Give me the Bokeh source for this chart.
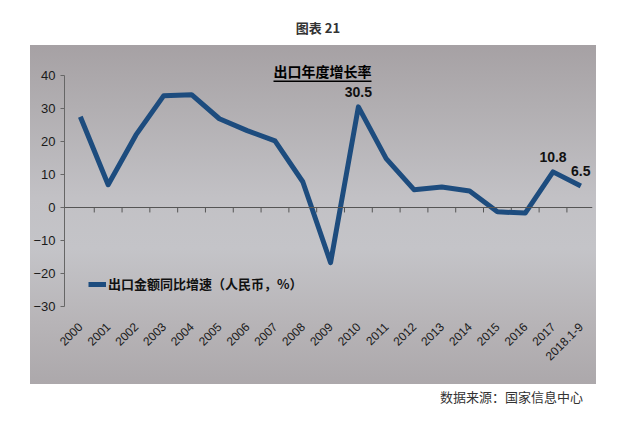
import math
from bokeh.plotting import figure
from bokeh.core.properties import value
from bokeh.models import (ColumnDataSource, FixedTicker, Label, Legend, Span,
                          LegendItem, Div, Spacer, BoxAnnotation, Range1d, LabelSet)
from bokeh.layouts import column, row
from bokeh.embed import file_html
from bokeh.resources import INLINE

# ---- data ----
years = ["2000", "2001", "2002", "2003", "2004", "2005", "2006", "2007", "2008",
         "2009", "2010", "2011", "2012", "2013", "2014", "2015", "2016", "2017",
         "2018.1-9"]
growth = [27.5, 6.9, 22.0, 33.9, 34.2, 26.9, 23.3, 20.2, 7.8, -16.7, 30.5, 14.8,
          5.4, 6.2, 5.0, -1.3, -1.7, 10.8, 6.5]
value_labels = ["", "", "", "", "", "", "", "", "", "", "30.5", "", "", "", "", "",
                "", "10.8", "6.5"]
y_ticks = [-30, -20, -10, 0, 10, 20, 30, 40]
series_name = "出口金额同比增速（人民币，%）"
chart_title = "出口年度增长率"
figure_caption = "图表 21"
source_note = "数据来源：国家信息中心"

xs = list(range(len(years)))
src = ColumnDataSource(dict(x=xs, y=growth))
lab_idx = [i for i, t in enumerate(value_labels) if t]
lab_src = ColumnDataSource(dict(x=[xs[i] for i in lab_idx],
                                y=[growth[i] for i in lab_idx],
                                lab=[value_labels[i] for i in lab_idx]))
bounds = [i + 0.5 for i in xs[:-1]]
tick_src = ColumnDataSource(dict(x=bounds))

LINE = "#1d4c7e"
FONT = "Liberation Sans"
CJK = "Noto Sans CJK SC"

p = figure(width=566, height=339, output_backend="svg", toolbar_location=None,
           x_range=Range1d(-0.57, 18.42), y_range=Range1d(-30, 49.1),
           min_border_left=32, min_border_right=4, min_border_top=0,
           min_border_bottom=78)
p.border_fill_color = None
p.background_fill_color = None
p.outline_line_color = None
p.styles = {"background": "linear-gradient(to bottom, #a6a1a4 0%, #b1aeb1 18%, "
                          "#c2c1c5 45%, #c4c4c8 60%, #b7b4b7 82%, #aca8ab 100%)"}
p.grid.visible = False

# bottom category labels
xa = p.xaxis[0]
xa.ticker = FixedTicker(ticks=xs)
xa.major_label_overrides = {i: y for i, y in enumerate(years)}
xa.major_label_orientation = math.pi / 4
xa.axis_line_color = None
xa.major_tick_line_color = None
xa.minor_tick_line_color = None
xa.major_label_standoff = 12
xa.major_label_text_font = FONT
xa.major_label_text_font_size = "12px"
xa.major_label_text_color = "#1a1a1a"

# zero line with category-boundary tick marks
p.add_layout(Span(location=0, dimension="width", line_color="#555555", line_width=1))
p.segment(x0="x", x1="x", y0=0, y1=-1.5, source=tick_src, line_color="#555555",
          line_width=1)

# y axis
ya = p.yaxis[0]
ya.ticker = FixedTicker(ticks=y_ticks)
ya.bounds = (-30, 40)
ya.axis_line_color = "#666666"
ya.major_tick_line_color = "#666666"
ya.major_tick_in = 0
ya.major_tick_out = 4
ya.minor_tick_line_color = None
ya.major_label_standoff = 5
ya.major_label_text_font = FONT
ya.major_label_text_font_size = "13px"
ya.major_label_text_color = "#1a1a1a"

r = p.line("x", "y", source=src, line_color=LINE, line_width=5, line_join="round")

labels = LabelSet(x="x", y="y", text="lab", source=lab_src, y_offset=10,
                  text_align="center", text_baseline="bottom",
                  text_font=value(FONT), text_font_style="bold",
                  text_font_size="14px", text_color="#111111")
p.add_layout(labels)

legend = Legend(items=[LegendItem(label=series_name, renderers=[r])],
                location=(24, 13), orientation="vertical")
legend.label_text_font = CJK
legend.label_text_font_style = "bold"
legend.label_text_font_size = "13px"
legend.label_text_color = "#111111"
legend.glyph_width = 18
legend.glyph_height = 12
legend.label_standoff = 2
legend.padding = 0
legend.margin = 0
legend.background_fill_alpha = 0
legend.border_line_color = None
p.add_layout(legend)

title_lab = Label(x=258, y=236, x_units="screen", y_units="screen", text=chart_title,
                  text_align="center", text_baseline="middle", text_font=CJK,
                  text_font_style="bold", text_font_size="14px", text_color="#000000")
p.add_layout(title_lab)
underline = BoxAnnotation(left=209, right=307, bottom=224.5, top=226,
                          left_units="screen", right_units="screen",
                          bottom_units="screen", top_units="screen",
                          fill_color="#000000", fill_alpha=1, line_color=None)
p.add_layout(underline)

title_div = Div(text=f'<div style="width:612px;text-align:center;padding-top:16px;'
                     f'padding-left:14px;line-height:14px;font-family:\'{CJK}\';'
                     f'font-weight:bold;font-size:13px;color:#333;">{figure_caption}</div>',
                width=612, height=35)
src_div = Div(text=f'<div style="width:578px;text-align:right;padding-top:0px;'
                   f'line-height:16px;font-family:\'{CJK}\';font-size:13px;color:#333;">'
                   f'{source_note}</div>', width=612, height=30)

layout = column(title_div, row(Spacer(width=30, height=339), p), src_div)

open("out.html", "w").write(file_html(layout, INLINE))
